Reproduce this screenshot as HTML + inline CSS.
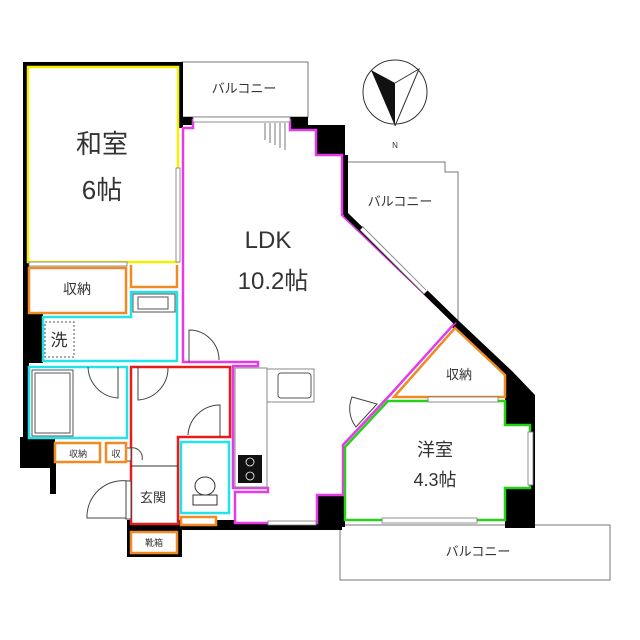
<!DOCTYPE html>
<html><head><meta charset="utf-8"><style>
body{margin:0;background:#fff}
svg{display:block}
text{font-family:"Liberation Sans","Noto Sans CJK JP",sans-serif;fill:#333}
</style></head><body>
<svg width="640" height="640" viewBox="0 0 640 640" xmlns="http://www.w3.org/2000/svg">
<rect x="182" y="62" width="126" height="55" fill="none" stroke="#777" stroke-width="1"/>
<text x="244" y="93" font-size="13" text-anchor="middle">バルコニー</text>
<polyline points="345,162 445,162 445,172 458,172 458,322" fill="none" stroke="#777"/>
<text x="400" y="206" font-size="13" text-anchor="middle">バルコニー</text>
<rect x="340" y="525" width="270" height="55" fill="none" stroke="#777"/>
<text x="478" y="556" font-size="13" text-anchor="middle">バルコニー</text>
<circle cx="395" cy="92" r="32" fill="none" stroke="#333"/>
<polygon points="371,70 395,83 395,126" fill="#111"/>
<polyline points="395,83 419,69 395,126" fill="none" stroke="#333"/>
<text x="395" y="148" font-size="8" text-anchor="middle">N</text>
<rect x="23" y="62" width="6" height="380" fill="#000"/>
<rect x="23" y="62" width="160" height="5" fill="#000"/>
<rect x="178" y="62" width="5" height="66" fill="#000"/>
<rect x="183" y="117" width="125" height="8" fill="#000"/>
<rect x="290" y="125" width="55" height="30" fill="#000"/>
<rect x="23" y="313" width="20" height="50" fill="#000"/>
<rect x="20" y="437" width="35" height="31" fill="#000"/>
<rect x="50" y="460" width="6" height="34" fill="#000"/>
<rect x="127" y="520" width="215" height="10" fill="#000"/>
<rect x="127" y="527" width="55" height="30" fill="#000"/>
<rect x="315" y="495" width="30" height="32" fill="#000"/>
<polygon points="342,155 348,155 348,213 460,322 513,372 535,395 535,528 505,528 505,395 455,330 342,218" fill="#000"/>
<rect x="28" y="67" width="150" height="195" fill="#fff" stroke="#f5f000" stroke-width="2.5"/>
<rect x="176" y="168" width="4" height="94" fill="#fff" stroke="#777" stroke-width="0.8"/>
<text x="102" y="153" font-size="26" text-anchor="middle">和室</text>
<text x="102" y="199" font-size="26" text-anchor="middle">6帖</text>
<rect x="29" y="262" width="98" height="4" fill="#fff" stroke="#777" stroke-width="0.8"/>
<rect x="29" y="268" width="97" height="45" fill="#fff" stroke="#f08a24" stroke-width="2.5"/>
<text x="77" y="294" font-size="14" text-anchor="middle">収納</text>
<polyline points="131,265 131,287 177,287 177,265" fill="none" stroke="#f08a24" stroke-width="2.5"/>
<polygon points="131,292 177,292 177,361 43,361 43,317 131,317" fill="#fff" stroke="#22e3ea" stroke-width="2.5"/>
<rect x="133" y="294" width="42" height="18" fill="#fff" stroke="#555"/>
<rect x="138" y="297" width="30" height="12" fill="none" stroke="#555"/>
<rect x="45" y="322" width="29" height="35" fill="none" stroke="#555" stroke-dasharray="2,2"/>
<text x="59" y="346" font-size="17" text-anchor="middle">洗</text>
<rect x="29" y="367" width="98" height="71" fill="#fff" stroke="#22e3ea" stroke-width="2.5"/>
<rect x="32" y="370" width="41" height="66" fill="none" stroke="#555"/>
<rect x="35" y="373" width="35" height="60" fill="none" stroke="#555"/>
<path d="M88,367 A32,32 0 0 0 118,398 L118,367" fill="none" stroke="#444"/>
<polygon points="183,362 183,128 193,128 193,120 290,120 290,130 316,130 316,155 342,155 342,215 455,323 390,395 343,445 343,495 317,495 317,523 235,523 235,492 268,492 268,488 233,488 233,366 258,366 258,362" fill="#fff" stroke="#e53ae8" stroke-width="2.5"/>
<rect x="193" y="117" width="97" height="5" fill="#fff" stroke="#777" stroke-width="0.8"/>
<g stroke="#555" stroke-width="0.8"><line x1="265" y1="123" x2="265" y2="140"/><line x1="270" y1="123" x2="270" y2="143"/><line x1="275" y1="123" x2="275" y2="145"/><line x1="280" y1="123" x2="280" y2="148"/><line x1="285" y1="123" x2="285" y2="150"/></g>
<line x1="345" y1="215" x2="455" y2="323" stroke="#000" stroke-width="3"/>
<line x1="362" y1="228" x2="426" y2="292" stroke="#fff" stroke-width="5"/>
<line x1="362" y1="226" x2="426" y2="290" stroke="#777" stroke-width="0.8"/>
<line x1="360" y1="230" x2="424" y2="294" stroke="#777" stroke-width="0.8"/>
<text x="268" y="248" font-size="24" text-anchor="middle">LDK</text>
<text x="273" y="289" font-size="24" text-anchor="middle">10.2帖</text>
<path d="M189,362 L189,330 A30,30 0 0 1 219,360" fill="none" stroke="#444"/>
<rect x="235" y="368" width="32" height="119" fill="#fff" stroke="#888"/>
<rect x="267" y="369" width="47" height="33" fill="#fff" stroke="#888"/>
<rect x="278" y="373" width="33" height="25" rx="3" fill="none" stroke="#555"/>
<rect x="238" y="455" width="24" height="28" fill="#111"/>
<circle cx="250" cy="462" r="4" fill="none" stroke="#fff" stroke-width="0.8"/><circle cx="250" cy="476" r="4" fill="none" stroke="#fff" stroke-width="0.8"/>
<rect x="268" y="521" width="48" height="4" fill="#fff" stroke="#777" stroke-width="0.8"/>
<polygon points="131,367 230,367 230,437 178,437 178,524 131,524" fill="#fff" stroke="#e81c1c" stroke-width="2.5"/>
<line x1="131" y1="466" x2="178" y2="466" stroke="#333"/>
<path d="M138,367 L138,400 A32,32 0 0 0 168,368" fill="none" stroke="#444"/>
<path d="M220,437 L220,405 A32,32 0 0 0 188,435" fill="none" stroke="#444"/>
<text x="153" y="502" font-size="13" text-anchor="middle">玄関</text>
<path d="M130,448 A10,10 0 0 1 142,460" fill="none" stroke="#444"/>
<rect x="126" y="448" width="5" height="13" fill="#fff" stroke="#444"/>
<path d="M128,481 A36,36 0 0 0 87,518 L128,518" fill="none" stroke="#444"/>
<rect x="126" y="481" width="5" height="38" fill="#fff" stroke="#444"/>
<rect x="181" y="442" width="48" height="71" fill="#fff" stroke="#22e3ea" stroke-width="2.5"/>
<ellipse cx="205" cy="486" rx="10" ry="9" fill="none" stroke="#333"/>
<rect x="193" y="495" width="24" height="10" fill="none" stroke="#333"/>
<rect x="181" y="517" width="35" height="8" fill="#fff" stroke="#f08a24" stroke-width="2.5"/>
<rect x="55" y="443" width="45" height="19" fill="#fff" stroke="#f08a24" stroke-width="2.5"/>
<text x="78" y="457" font-size="9" text-anchor="middle">収納</text>
<rect x="106" y="443" width="20" height="19" fill="#fff" stroke="#f08a24" stroke-width="2.5"/>
<text x="116" y="457" font-size="9" text-anchor="middle">収</text>
<rect x="131" y="532" width="46" height="21" fill="#fff" stroke="#f08a24" stroke-width="2.5"/>
<text x="154" y="546" font-size="9" text-anchor="middle">靴箱</text>
<polygon points="455,328 505,375 505,397 394,397" fill="#fff" stroke="#f08a24" stroke-width="2.5"/>
<text x="459" y="379" font-size="13" text-anchor="middle">収納</text>
<polygon points="388,401 505,401 505,425 530,425 530,488 505,488 505,520 345,520 345,447" fill="#fff" stroke="#27d11b" stroke-width="2.5"/>
<rect x="528" y="432" width="5" height="53" fill="#fff" stroke="#777" stroke-width="0.8"/>
<rect x="382" y="518" width="95" height="5" fill="#fff" stroke="#777" stroke-width="0.8"/>
<rect x="428" y="397" width="70" height="5" fill="#fff" stroke="#777" stroke-width="0.8"/>
<path d="M377,404 L356,427 A30,30 0 0 1 352,397 Z" fill="none" stroke="#444"/>
<text x="435" y="456" font-size="18" text-anchor="middle">洋室</text>
<text x="435" y="486" font-size="18" text-anchor="middle">4.3帖</text>
</svg>
</body></html>
